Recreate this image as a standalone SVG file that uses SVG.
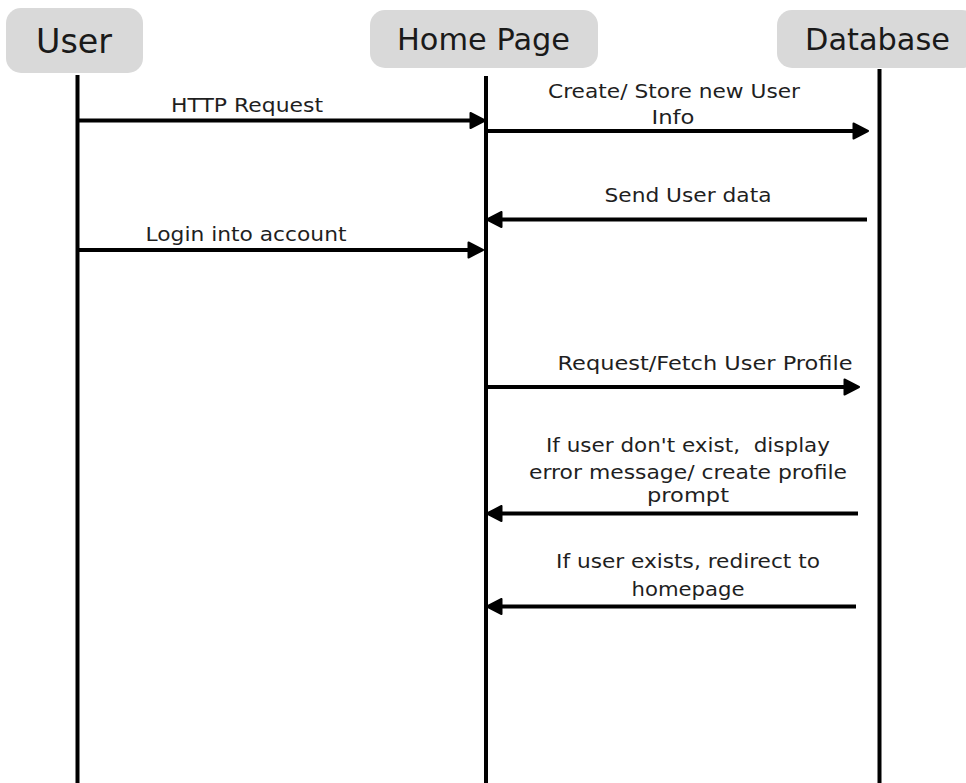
<svg xmlns="http://www.w3.org/2000/svg" width="966" height="783" viewBox="0 0 966 783">
<style>
.box{fill:#d9d9d9;stroke:none}
.title{font-family:"DejaVu Sans","Liberation Sans",sans-serif;fill:#1a1a1a}
.life{stroke:#000;stroke-width:4;fill:none}
.msg{stroke:#000;stroke-width:4;fill:none;marker-end:url(#arr)}
.lbl{font-family:"DejaVu Sans","Liberation Sans",sans-serif;font-size:20px;fill:#1f1f1f;text-anchor:middle;white-space:pre}
</style>
<defs>
<marker id="arr" markerUnits="userSpaceOnUse" viewBox="0 0 18 18" markerWidth="18" markerHeight="18" refX="6" refY="9" orient="auto">
<path d="M1.5,1.5 L16,9 L1.5,16.5 Z" fill="#000" stroke="#000" stroke-width="2" stroke-linejoin="round"/>
</marker>
</defs>
<rect width="966" height="783" fill="#fff"/>
<g id="user">
<rect class="box" x="6" y="8" width="137" height="65" rx="15"/>
<text class="title" x="36" y="53" font-size="34" textLength="76" lengthAdjust="spacingAndGlyphs">User</text>
</g>
<g id="homepage">
<rect class="box" x="370" y="10" width="228" height="58" rx="15"/>
<text class="title" x="397" y="50" font-size="30" textLength="173" lengthAdjust="spacingAndGlyphs">Home Page</text>
</g>
<g id="database">
<rect class="box" x="777" y="10" width="200" height="58" rx="15"/>
<text class="title" x="805" y="50" font-size="30" textLength="145" lengthAdjust="spacingAndGlyphs">Database</text>
</g>
<g id="lifelines">
<line class="life" x1="77.5" y1="75" x2="77.5" y2="783"/>
<line class="life" x1="486" y1="76" x2="486" y2="783"/>
<line class="life" x1="879.5" y1="69" x2="879.5" y2="783"/>
</g>
<g id="connectors">
<line class="msg" x1="77" y1="120.5" x2="475" y2="120.5"/>
<line class="msg" x1="486" y1="131" x2="858" y2="131"/>
<line class="msg" x1="867" y1="219.5" x2="497" y2="219.5"/>
<line class="msg" x1="77" y1="250" x2="473" y2="250"/>
<line class="msg" x1="486" y1="387" x2="849" y2="387"/>
<line class="msg" x1="858" y1="513.5" x2="497" y2="513.5"/>
<line class="msg" x1="856" y1="606.5" x2="497" y2="606.5"/>
</g>
<g id="labels">
<text class="lbl" x="247" y="112" textLength="152" lengthAdjust="spacingAndGlyphs">HTTP Request</text>
<text class="lbl" x="674" y="98" textLength="252" lengthAdjust="spacingAndGlyphs">Create/ Store new User</text>
<text class="lbl" x="673" y="124" textLength="43" lengthAdjust="spacingAndGlyphs">Info</text>
<text class="lbl" x="688" y="202" textLength="167" lengthAdjust="spacingAndGlyphs">Send User data</text>
<text class="lbl" x="246" y="240.5" textLength="201" lengthAdjust="spacingAndGlyphs">Login into account</text>
<text class="lbl" x="705" y="369.5" textLength="295" lengthAdjust="spacingAndGlyphs">Request/Fetch User Profile</text>
<text class="lbl" x="688" y="451.5" textLength="284" lengthAdjust="spacingAndGlyphs">If user don't exist,  display</text>
<text class="lbl" x="688" y="479" textLength="318" lengthAdjust="spacingAndGlyphs">error message/ create profile</text>
<text class="lbl" x="688" y="501.5" textLength="82" lengthAdjust="spacingAndGlyphs">prompt</text>
<text class="lbl" x="688" y="568" textLength="264" lengthAdjust="spacingAndGlyphs">If user exists, redirect to</text>
<text class="lbl" x="688" y="596" textLength="113" lengthAdjust="spacingAndGlyphs">homepage</text>
</g>
</svg>
